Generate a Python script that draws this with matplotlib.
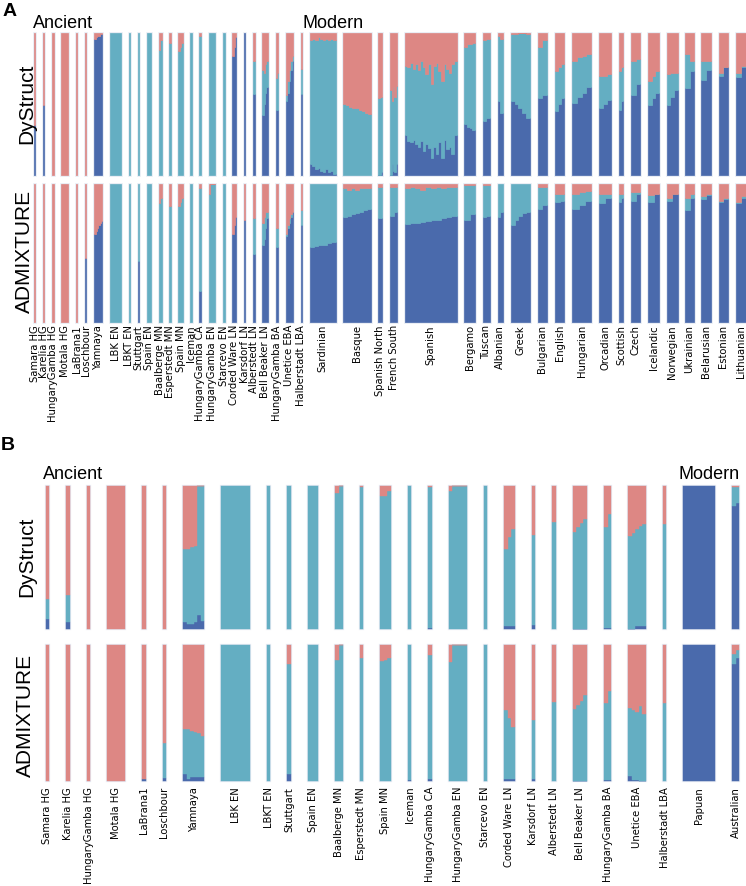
import numpy as np
import matplotlib.pyplot as plt
from matplotlib.patches import Rectangle

BLUE = '#4a6aac'
TEAL = '#64aec2'
RED = '#dd8784'
EDGE = '#e4e9f2'

# ---------------- panel A: ancient + modern (European) ----------------
pops_a = ['Samara HG', 'Karelia HG', 'HungaryGamba HG', 'Motala HG', 'LaBrana1',
          'Loschbour', 'Yamnaya', 'LBK EN', 'LBKT EN', 'Stuttgart', 'Spain EN',
          'Baalberge MN', 'Esperstedt MN', 'Spain MN', 'Iceman', 'HungaryGamba CA',
          'HungaryGamba EN', 'Starcevo EN', 'Corded Ware LN', 'Karsdorf LN',
          'Alberstedt LN', 'Bell Beaker LN', 'HungaryGamba BA', 'Unetice EBA',
          'Halberstadt LBA',
          'Sardinian', 'Basque', 'Spanish North', 'French South', 'Spanish',
          'Bergamo', 'Tuscan', 'Albanian', 'Greek', 'Bulgarian', 'English',
          'Hungarian', 'Orcadian', 'Scottish', 'Czech', 'Icelandic', 'Norwegian',
          'Ukrainian', 'Belarusian', 'Estonian', 'Lithuanian']
# samples per population
n_a = [1, 1, 1, 5, 1, 1, 6, 8, 1, 1, 3, 2, 1, 3, 1, 1, 5, 1, 3, 1, 1, 4, 2, 5, 1,
       19, 20, 3, 5, 38, 8, 5, 4, 14, 7, 7, 14, 9, 3, 7, 8, 8, 6, 7, 7, 7]

# share of the blue component (bottom) and blue+teal (rest is red) per sample
dy_a_blue = [[0.35], [0.49], [0], [0], [0], [0],
             [0.96, 0.97, 0.98, 0.98, 0.99, 0.99],
             [0], [0], [0], [0], [0], [0], [0], [0], [0], [0], [0],
             [0.84, 0.9, 0.97], [1], [0.57],
             [0.42, 0.5, 0.58, 0.62], [0.46, 0.46],
             [0.52, 0.58, 0.66, 0.74, 0.8], [0.57],
             [0.08, 0.06, 0.04, 0.05, 0.03, 0.02, 0.04, 0.02, 0.03, 0.01],
             [0], [0.0, 0.0, 0.02], [0.0, 0.08, 0.03, 0.02, 0.08],
             [0.28, 0.24, 0.23, 0.25, 0.22, 0.2, 0.24, 0.17, 0.22, 0.19,
              0.12, 0.2, 0.15, 0.23, 0.12, 0.25, 0.18, 0.2, 0.15, 0.28],
             [0.36, 0.34, 0.33, 0.32], [0.38, 0.4], [0.52, 0.44],
             [0.52, 0.5, 0.47, 0.44, 0.4], [0.54, 0.56], [0.45, 0.5, 0.54],
             [0.51, 0.55, 0.58, 0.62], [0.47, 0.5, 0.53], [0.46, 0.52],
             [0.56, 0.64], [0.49, 0.54, 0.58], [0.49, 0.55, 0.6], [0.61, 0.73],
             [0.67, 0.74], [0.7, 0.76], [0.69, 0.76]]
dy_a_cum = [[0.35], [0.49], [0], [0], [0], [0],
            [0.96, 0.97, 0.98, 0.98, 0.99, 0.99],
            [1], [1], [1], [1], [0.88, 0.95], [0.93], [0.87, 0.9, 0.93], [1],
            [0.98], [1], [1],
            [0.84, 0.9, 0.97], [1], [0.8],
            [0.74, 0.72, 0.78, 0.8], [0.68, 0.72],
            [0.56, 0.66, 0.74, 0.8, 0.84], [0.75],
            [0.95, 0.96, 0.95, 0.97, 0.96, 0.95, 0.96, 0.95, 0.96, 0.95],
            [0.5, 0.49, 0.48, 0.47, 0.47, 0.46, 0.45, 0.44, 0.43],
            [0.54, 0.55, 0.55], [0.6, 0.52, 0.62, 0.55, 0.63],
            [0.77, 0.76, 0.79, 0.75, 0.78, 0.74, 0.8, 0.76, 0.71, 0.78,
             0.64, 0.77, 0.79, 0.73, 0.66, 0.78, 0.75, 0.72, 0.78, 0.8],
            [0.9, 0.92, 0.92, 0.93], [0.95, 0.96], [0.98, 0.96],
            [0.99, 0.99, 1.0, 1.0, 0.99], [0.9, 0.95], [0.73, 0.76, 0.78],
            [0.8, 0.83, 0.84, 0.85], [0.7, 0.7, 0.71], [0.73, 0.76],
            [0.8, 0.82], [0.66, 0.7, 0.73], [0.71, 0.72, 0.72], [0.85, 0.8],
            [0.8, 0.8], [0.72, 0.76], [0.72, 0.77]]

adm_a_blue = [[0], [0], [0], [0], [0], [0.46],
              [0.64, 0.66, 0.68, 0.7, 0.72, 0.73],
              [0], [0], [0.44], [0], [0], [0], [0], [0], [0.22], [0], [0],
              [0.64, 0.7, 0.76], [0.74], [0.49],
              [0.56, 0.6, 0.68, 0.75], [0.54],
              [0.62, 0.68, 0.72, 0.76, 0.8], [0.7],
              [0.54, 0.55, 0.56, 0.56, 0.57, 0.58],
              [0.76, 0.77, 0.78, 0.79, 0.8, 0.81, 0.82],
              [0.75], [0.77, 0.8],
              [0.71, 0.715, 0.72, 0.725, 0.73, 0.735, 0.74, 0.75, 0.76, 0.77],
              [0.74, 0.78], [0.76, 0.77], [0.76, 0.8],
              [0.7, 0.74, 0.77, 0.79, 0.8], [0.82, 0.85], [0.87, 0.88],
              [0.82, 0.85, 0.88], [0.86, 0.9], [0.87, 0.9], [0.88, 0.93],
              [0.87, 0.93], [0.88, 0.93], [0.81, 0.9], [0.89, 0.92],
              [0.87, 0.89], [0.86, 0.9]]
adm_a_cum = [[0], [0], [0], [0], [0], [0.46],
             [0.64, 0.66, 0.68, 0.7, 0.72, 0.73],
             [1], [1], [1], [1], [0.86, 0.9], [0.84], [0.84, 0.87, 0.9], [1],
             [0.97], [0.93, 1, 1, 1, 1], [1],
             [0.64, 0.7, 0.76], [0.74], [0.75],
             [0.72, 0.76, 0.8, 0.8], [0.68],
             [0.64, 0.7, 0.75, 0.78, 0.8], [0.81],
             [1], [0.97, 0.96, 0.97, 0.96, 0.97, 0.97, 0.97],
             [0.98], [0.98],
             [0.97, 0.98, 0.97, 0.96, 0.98, 0.97, 0.98, 0.97, 0.98, 0.98],
             [0.99], [0.99], [1], [1], [0.98], [0.93],
             [0.93, 0.94, 0.95], [0.93], [0.93], [0.94],
             [0.92, 0.93], [0.9, 0.93], [0.9, 0.93], [0.91, 0.93],
             [0.875, 0.895], [0.87, 0.91]]

# ---------------- panel B: ancient + Oceanian ----------------
pops_b = pops_a[:25] + ['Papuan', 'Australian']
n_b = n_a[:25] + [9, 2]

dy_b_blue = [[0.07], [0.05], [0], [0], [0], [0],
             [0.05, 0.04, 0.04, 0.05, 0.1, 0.06],
             [0], [0], [0], [0], [0], [0], [0], [0], [0.01], [0], [0],
             [0.02], [0.03], [0], [0.005], [0.01],
             [0.005, 0.005, 0.02, 0.02, 0.02], [0],
             [1], [0.86, 0.88]]
dy_b_cum = [[0.21], [0.24], [0], [0], [0], [0],
            [0.56, 0.56, 0.57, 0.58, 1.0, 1.0],
            [1], [1], [1], [1], [0.95, 1], [0.99], [0.93, 0.93, 0.96], [1],
            [0.99], [0.96, 1, 1, 1, 1], [1],
            [0.56, 0.64, 0.7], [0.66], [0.75], [0.68, 0.71, 0.74, 0.77],
            [0.71, 0.8], [0.65, 0.67, 0.7, 0.72, 0.73], [0.73],
            [1], [0.99, 0.99]]

adm_b_blue = [[0], [0], [0], [0], [0.02], [0.025],
              [0.05, 0.02, 0.03, 0.03, 0.03, 0.03],
              [0], [0], [0.05], [0], [0], [0], [0], [0.01], [0.02], [0], [0],
              [0.02], [0.02], [0], [0.005], [0.01],
              [0.04, 0.01, 0.01, 0.005, 0.005], [0],
              [1], [0.86, 0.9]]
adm_b_cum = [[0], [0], [0], [0], [0.02], [0.28],
             [0.38, 0.38, 0.37, 0.36, 0.35, 0.33],
             [1], [1], [0.86], [1], [0.89, 1], [0.9], [0.88, 0.89, 0.9], [1],
             [0.925], [0.87, 1, 1, 1, 1], [1],
             [0.52, 0.46, 0.4], [0.45], [0.58], [0.53, 0.56, 0.59, 0.63],
             [0.57, 0.66], [0.54, 0.52, 0.51, 0.55, 0.49], [0.57],
             [1], [0.93, 0.96]]


def draw_row(ax, counts, blue, cum, gap, fill_lw, halo_lw):
    x = 0.0
    centers = []
    for n, b, c in zip(counts, blue, cum):
        b, c = np.broadcast_arrays(np.asarray(b, float), np.asarray(c, float))
        edges = x + np.linspace(0, n, len(b) + 1)
        # pale outline sits underneath the coloured block
        ax.add_patch(Rectangle((x, 0), n, 1, fc=EDGE, ec=EDGE, lw=halo_lw,
                               clip_on=False, zorder=0.5))
        for lo, hi, col in [(np.zeros_like(b), b, BLUE), (b, c, TEAL),
                            (c, np.ones_like(c), RED)]:
            if np.all(hi - lo <= 0):
                continue
            ax.stairs(hi, edges, baseline=lo, fill=True, fc=col, ec=col,
                      lw=fill_lw, zorder=1, clip_on=False)
        centers.append(x + n / 2)
        x += n + gap
    ax.set_xlim(0, x - gap)
    ax.set_ylim(0, 1)
    for s in ax.spines.values():
        s.set_visible(False)
    ax.set_yticks([])
    ax.set_xticks([])
    return centers


fig = plt.figure(figsize=(7.46, 8.86), dpi=100)
W, H = 746, 886


def add_ax(x0, x1, y0, y1):
    return fig.add_axes([x0 / W, 1 - y1 / H, (x1 - x0) / W, (y1 - y0) / H])


# panel A
ax1 = add_ax(34, 745.5, 33, 175)
ax2 = add_ax(34, 745.5, 184, 321.6)
draw_row(ax1, n_a, dy_a_blue, dy_a_cum, 5.7, 0.5, 1.8)
cen = draw_row(ax2, n_a, adm_a_blue, adm_a_cum, 5.7, 0.5, 1.8)
ax2.set_xticks(cen)
ax2.set_xticklabels(pops_a, rotation=90, fontsize=7.2)
ax2.tick_params(axis='x', length=0, pad=2.5)

# panel B
ax3 = add_ax(45.7, 739.3, 485.7, 629.3)
ax4 = add_ax(45.7, 739.3, 644.7, 781.3)
draw_row(ax3, n_b, dy_b_blue, dy_b_cum, 4.8, 0.3, 1.6)
cen = draw_row(ax4, n_b, adm_b_blue, adm_b_cum, 4.8, 0.3, 1.6)
ax4.set_xticks(cen)
ax4.set_xticklabels(pops_b, rotation=90, fontsize=7.2)
ax4.tick_params(axis='x', length=0, pad=4)

hf = 'Liberation Sans'
fig.text(3 / W, 1 - 3 / H, 'A', fontsize=14, weight='bold', family=hf, va='top')
fig.text(33 / W, 1 - 28.5 / H, 'Ancient', fontsize=13, family=hf, va='baseline')
fig.text(302 / W, 1 - 28.5 / H, 'Modern', fontsize=13, family=hf, va='baseline')
fig.text(27 / W, 1 - 104 / H, 'DyStruct', fontsize=15, family=hf, rotation=90,
         ha='center', va='center')
fig.text(24.5 / W, 1 - 251 / H, 'ADMIXTURE', fontsize=15, family=hf, rotation=90,
         ha='center', va='center')

fig.text(1 / W, 1 - 437 / H, 'B', fontsize=14, weight='bold', family=hf, va='top')
fig.text(43 / W, 1 - 479 / H, 'Ancient', fontsize=13, family=hf, va='baseline')
fig.text(679 / W, 1 - 479 / H, 'Modern', fontsize=13, family=hf, va='baseline')
fig.text(27 / W, 1 - 557 / H, 'DyStruct', fontsize=15, family=hf, rotation=90,
         ha='center', va='center')
fig.text(25 / W, 1 - 715 / H, 'ADMIXTURE', fontsize=15, family=hf, rotation=90,
         ha='center', va='center')

fig.savefig('out.png', dpi=100)
